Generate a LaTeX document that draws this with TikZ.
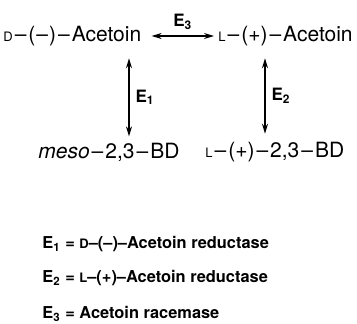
\documentclass[tikz,border=0pt]{standalone}
\usepackage{fontspec}
\setmainfont{TeX Gyre Heros}
\usepackage{tikz}
\usetikzlibrary{
  arrows.meta,
  positioning,
  calc
}
\newcommand{\chiral}[1]{{\fontsize{6.5}{8}\selectfont #1}}
\newcommand{\dsh}{\kern1pt--\kern1pt}
\tikzset{
  compound/.style={
    anchor=west,
    inner sep=1pt,
    font=\fontsize{10.5}{12}\selectfont
  },
  legendline/.style={
    anchor=west,
    inner sep=1pt,
    font=\bfseries\fontsize{8.2}{10}\selectfont
  },
  enzarrow/.style={{Stealth[length=5pt,width=3pt]}-{Stealth[length=5pt,width=3pt]},semithick},
  enzlabel/.style={font=\bfseries\fontsize{8.5}{10}\selectfont,inner sep=1pt},
}

\begin{document}
\begin{tikzpicture}[x=0.5pt,y=-0.5pt]
  \useasboundingbox (0,0) rectangle (357,324);
  % Compounds
  \node[compound] (dac) at (1,36) {\chiral{D}\dsh(\kern0.5pt--\kern0.5pt)\dsh Acetoin};
  \node[compound] (lac) at (216,36) {\chiral{L}\dsh(+)\dsh Acetoin};
  \node[compound] (meso) at (36,152) {\textit{meso}\dsh 2,3\dsh BD};
  \node[compound] (lbd) at (203,152) {\chiral{L}\dsh(+)\dsh 2,3\dsh BD};

  % Columns of the vertical arrows
  \coordinate (colE1) at (129,0);
  \coordinate (colE2) at (265,0);

  % Reactions
  \draw[enzarrow] ([xshift=4pt]dac.east) -- node[enzlabel,above=2pt] {E\textsubscript{3}} ([xshift=-1pt]lac.west);
  \draw[enzarrow] ([yshift=-5pt]dac.south -| colE1) -- node[enzlabel,right=2pt] {E\textsubscript{1}} ([yshift=2pt]meso.north -| colE1);
  \draw[enzarrow] ([yshift=-5pt]lac.south -| colE2) -- node[enzlabel,right=2pt] {E\textsubscript{2}} ([yshift=3pt]lbd.north -| colE2);

  % Legend
  \node[legendline] (leg1) at (40,244) {E\textsubscript{1} = \chiral{D}--(--)--Acetoin reductase};
  \node[legendline] (leg2) at (40,278) {E\textsubscript{2} = \chiral{L}--(+)--Acetoin reductase};
  \node[legendline] (leg3) at (40,314) {E\textsubscript{3} = Acetoin racemase};
\end{tikzpicture}
\end{document}
